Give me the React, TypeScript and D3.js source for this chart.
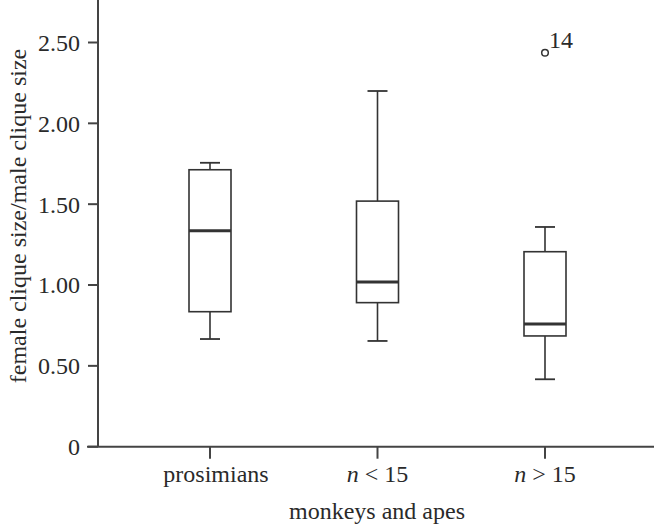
import React from "react";
import * as d3 from "d3";

const categories = ["prosimians", "n<15", "n>15"];
const whiskerLow = [0.666, 0.654, 0.417];
const q1 = [0.835, 0.891, 0.685];
const median = [1.336, 1.018, 0.759];
const q3 = [1.713, 1.519, 1.206];
const whiskerHigh = [1.756, 2.2, 1.359];
const outlierGroup = ["n>15"];
const outlierValue = [2.437];
const outlierLabel = ["14"];
const yTicks = [0, 0.5, 1.0, 1.5, 2.0, 2.5];

const W = 654;
const H = 527;
const FONT = "'Liberation Serif', 'Times New Roman', serif";
const INK = "#2a2a2a";

export default function App() {
  const y = d3.scaleLinear().domain([0, 2.5]).range([446.7, 42.5]);
  const x = d3.scalePoint<string>().domain(categories).range([210, 545]);
  const axisX0 = 98;
  const axisY0 = y(0);
  const boxHalf = 21;
  const capHalf = 10;

  const fmt = (v: number) => (v === 0 ? "0" : d3.format(".2f")(v));

  const renderCat = (c: string) => {
    if (c.startsWith("n")) {
      return (
        <>
          <tspan fontStyle="italic">n</tspan>
          <tspan>{c.slice(1, 2) === "<" ? " < 15" : " > 15"}</tspan>
        </>
      );
    }
    return c;
  };

  return (
    <svg
      width={W}
      height={H}
      style={{ position: "absolute", left: 0, top: 0, background: "#fff" }}
    >
      {/* axes */}
      <line x1={axisX0} x2={axisX0} y1={0} y2={axisY0} stroke="#444" strokeWidth={2} />
      <line x1={87} x2={W} y1={axisY0} y2={axisY0} stroke="#444" strokeWidth={2} />
      {yTicks.map((t) => (
        <g key={t}>
          <line x1={88} x2={axisX0} y1={y(t)} y2={y(t)} stroke="#444" strokeWidth={2} />
          <text
            x={80}
            y={y(t)}
            dy="0.35em"
            textAnchor="end"
            fontFamily={FONT}
            fontSize={24}
            fill={INK}
          >
            {fmt(t)}
          </text>
        </g>
      ))}
      {categories.map((c, i) => (
        <g key={c}>
          <line
            x1={x(c)}
            x2={x(c)}
            y1={axisY0}
            y2={axisY0 + 12}
            stroke="#444"
            strokeWidth={2}
          />
          <text
            x={(x(c) as number) + (i === 0 ? 6 : 0)}
            y={482}
            textAnchor="middle"
            fontFamily={FONT}
            fontSize={24}
            fill={INK}
          >
            {renderCat(c)}
          </text>
        </g>
      ))}
      <text
        x={(axisX0 + W) / 2 + 1}
        y={519}
        textAnchor="middle"
        fontFamily={FONT}
        fontSize={24}
        fill={INK}
      >
        monkeys and apes
      </text>
      <text
        transform={`translate(26, 216) rotate(-90)`}
        textAnchor="middle"
        fontFamily={FONT}
        fontSize={24}
        fill={INK}
      >
        female clique size/male clique size
      </text>

      {/* boxes */}
      {categories.map((c, i) => {
        const cx = x(c) as number;
        return (
          <g key={c} stroke="#333" fill="none">
            <line x1={cx} x2={cx} y1={y(whiskerHigh[i])} y2={y(q3[i])} strokeWidth={1.6} />
            <line x1={cx} x2={cx} y1={y(q1[i])} y2={y(whiskerLow[i])} strokeWidth={1.6} />
            <line
              x1={cx - capHalf}
              x2={cx + capHalf}
              y1={y(whiskerHigh[i])}
              y2={y(whiskerHigh[i])}
              strokeWidth={1.8}
            />
            <line
              x1={cx - capHalf}
              x2={cx + capHalf}
              y1={y(whiskerLow[i])}
              y2={y(whiskerLow[i])}
              strokeWidth={1.8}
            />
            <rect
              x={cx - boxHalf}
              y={y(q3[i])}
              width={boxHalf * 2}
              height={y(q1[i]) - y(q3[i])}
              strokeWidth={1.6}
            />
            <line
              x1={cx - boxHalf}
              x2={cx + boxHalf}
              y1={y(median[i])}
              y2={y(median[i])}
              strokeWidth={3}
            />
          </g>
        );
      })}
      {outlierGroup.map((g, i) => (
        <g key={g + i}>
          <circle
            cx={x(g)}
            cy={y(outlierValue[i])}
            r={3.3}
            fill="#fff"
            stroke="#333"
            strokeWidth={1.5}
          />
          <text
            x={(x(g) as number) + 4}
            y={y(outlierValue[i]) - 5}
            fontFamily={FONT}
            fontSize={24}
            fill={INK}
          >
            {outlierLabel[i]}
          </text>
        </g>
      ))}
    </svg>
  );
}
